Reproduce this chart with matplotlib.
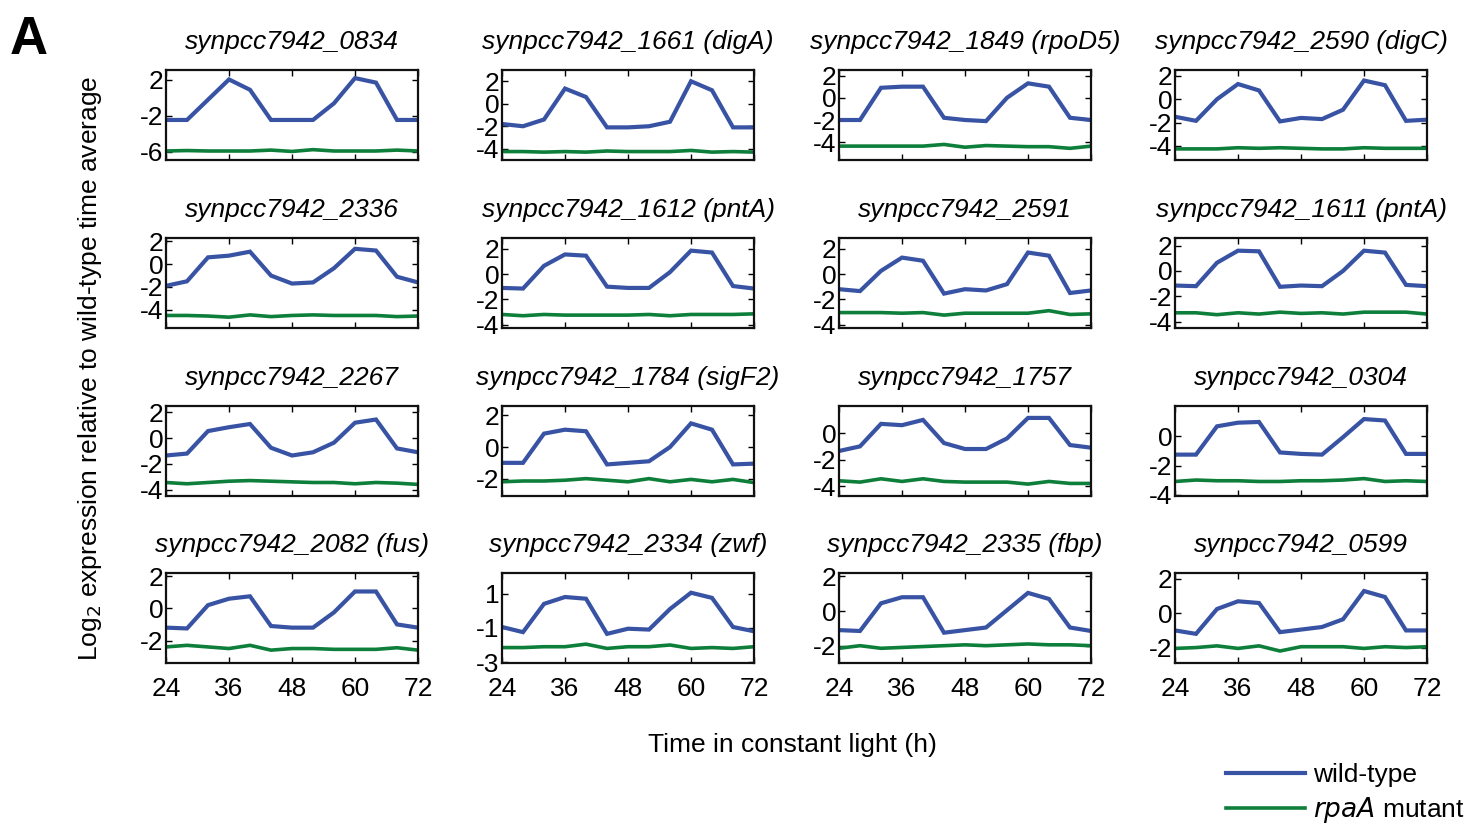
import numpy as np
import matplotlib
matplotlib.use('Agg')
from matplotlib import pyplot as plt

plt.rcParams['font.family'] = ['Liberation Sans', 'DejaVu Sans']
plt.rcParams['axes.unicode_minus'] = False

time_h = [24, 28, 32, 36, 40, 44, 48, 52, 56, 60, 64, 68, 72]

gene_names = ["synpcc7942_0834", "synpcc7942_1661 (digA)", "synpcc7942_1849 (rpoD5)", "synpcc7942_2590 (digC)",
              "synpcc7942_2336", "synpcc7942_1612 (pntA)", "synpcc7942_2591", "synpcc7942_1611 (pntA)",
              "synpcc7942_2267", "synpcc7942_1784 (sigF2)", "synpcc7942_1757", "synpcc7942_0304",
              "synpcc7942_2082 (fus)", "synpcc7942_2334 (zwf)", "synpcc7942_2335 (fbp)", "synpcc7942_0599"]

# wild-type expression, one row per gene
wild_type = [
    [-2.45, -2.45, -0.2, 2.05, 0.9, -2.45, -2.45, -2.45, -0.6, 2.2, 1.7, -2.45, -2.45],
    [-1.8, -2.0, -1.4, 1.35, 0.6, -2.1, -2.1, -2.0, -1.6, 2.0, 1.2, -2.1, -2.1],
    [-2.0, -2.0, 0.9, 1.0, 1.0, -1.8, -2.0, -2.1, 0.0, 1.3, 1.0, -1.8, -2.0],
    [-1.5, -1.85, 0.0, 1.3, 0.75, -1.9, -1.6, -1.7, -0.9, 1.6, 1.2, -1.85, -1.75],
    [-1.9, -1.5, 0.6, 0.75, 1.1, -1.0, -1.7, -1.6, -0.35, 1.35, 1.2, -1.1, -1.6],
    [-1.1, -1.15, 0.65, 1.55, 1.45, -1.0, -1.1, -1.1, 0.15, 1.85, 1.7, -0.95, -1.15],
    [-1.2, -1.35, 0.25, 1.3, 1.05, -1.55, -1.2, -1.3, -0.8, 1.7, 1.45, -1.5, -1.3],
    [-1.15, -1.2, 0.65, 1.6, 1.55, -1.25, -1.15, -1.2, 0.0, 1.6, 1.45, -1.1, -1.2],
    [-1.35, -1.2, 0.55, 0.85, 1.1, -0.75, -1.35, -1.1, -0.35, 1.2, 1.45, -0.8, -1.1],
    [-1.0, -1.0, 0.85, 1.1, 1.0, -1.1, -1.0, -0.9, 0.0, 1.5, 1.1, -1.1, -1.05],
    [-1.35, -1.0, 0.7, 0.6, 1.0, -0.75, -1.2, -1.2, -0.4, 1.15, 1.15, -0.9, -1.1],
    [-1.25, -1.25, 0.7, 0.95, 1.0, -1.1, -1.2, -1.25, -0.05, 1.2, 1.1, -1.2, -1.2],
    [-1.2, -1.25, 0.2, 0.6, 0.75, -1.1, -1.2, -1.2, -0.25, 1.05, 1.05, -1.0, -1.2],
    [-0.95, -1.25, 0.4, 0.8, 0.7, -1.35, -1.05, -1.1, 0.1, 1.05, 0.75, -0.95, -1.2],
    [-1.1, -1.15, 0.45, 0.8, 0.8, -1.25, -1.1, -0.95, 0.05, 1.05, 0.7, -0.95, -1.15],
    [-1.0, -1.2, 0.25, 0.7, 0.6, -1.1, -0.95, -0.8, -0.35, 1.3, 0.95, -1.0, -1.0],
]

# rpaA mutant expression
rpaA_mutant = [
    [-5.9, -5.85, -5.9, -5.9, -5.9, -5.8, -5.95, -5.75, -5.9, -5.9, -5.9, -5.8, -5.9],
    [-4.25, -4.25, -4.3, -4.25, -4.3, -4.2, -4.25, -4.25, -4.25, -4.15, -4.3, -4.25, -4.3],
    [-4.35, -4.35, -4.35, -4.35, -4.35, -4.2, -4.45, -4.3, -4.35, -4.4, -4.4, -4.55, -4.35],
    [-4.25, -4.25, -4.25, -4.15, -4.2, -4.15, -4.2, -4.25, -4.25, -4.15, -4.2, -4.2, -4.2],
    [-4.5, -4.5, -4.55, -4.65, -4.45, -4.6, -4.5, -4.45, -4.5, -4.5, -4.5, -4.6, -4.55],
    [-3.2, -3.3, -3.2, -3.25, -3.25, -3.25, -3.25, -3.2, -3.3, -3.2, -3.2, -3.2, -3.15],
    [-3.05, -3.05, -3.05, -3.1, -3.05, -3.25, -3.1, -3.1, -3.1, -3.1, -2.9, -3.2, -3.15],
    [-3.3, -3.3, -3.45, -3.3, -3.4, -3.25, -3.35, -3.3, -3.4, -3.25, -3.25, -3.25, -3.4],
    [-3.45, -3.55, -3.45, -3.35, -3.3, -3.35, -3.4, -3.45, -3.45, -3.55, -3.45, -3.5, -3.6],
    [-2.2, -2.15, -2.15, -2.1, -2.0, -2.1, -2.2, -2.0, -2.2, -2.05, -2.2, -2.05, -2.25],
    [-3.6, -3.7, -3.45, -3.65, -3.45, -3.65, -3.7, -3.7, -3.7, -3.85, -3.65, -3.8, -3.8],
    [-3.1, -3.0, -3.05, -3.05, -3.1, -3.1, -3.05, -3.05, -3.0, -2.9, -3.1, -3.05, -3.1],
    [-2.4, -2.3, -2.4, -2.5, -2.3, -2.6, -2.5, -2.5, -2.55, -2.55, -2.55, -2.45, -2.6],
    [-2.15, -2.15, -2.1, -2.1, -1.95, -2.2, -2.1, -2.1, -2.0, -2.2, -2.15, -2.2, -2.1],
    [-2.15, -2.0, -2.15, -2.1, -2.05, -2.0, -1.95, -2.0, -1.95, -1.9, -1.95, -1.95, -2.0],
    [-2.05, -2.0, -1.9, -2.05, -1.9, -2.2, -1.95, -1.95, -1.95, -2.05, -1.95, -2.0, -1.95],
]

y_ticks = [[-6, -2, 2], [-4, -2, 0, 2], [-4, -2, 0, 2], [-4, -2, 0, 2],
           [-4, -2, 0, 2], [-4, -2, 0, 2], [-4, -2, 0, 2], [-4, -2, 0, 2],
           [-4, -2, 0, 2], [-2, 0, 2], [-4, -2, 0], [-4, -2, 0],
           [-2, 0, 2], [-3, -1, 1], [-2, 0, 2], [-2, 0, 2]]
y_limits = [(-6.9, 3.1), (-5.0, 3.0), (-5.6, 2.5), (-5.2, 2.5),
            (-5.6, 2.3), (-4.27, 2.85), (-4.27, 2.85), (-4.5, 2.6),
            (-4.5, 2.5), (-3.1, 2.6), (-4.75, 2.05), (-4.1, 2.1),
            (-3.4, 2.2), (-3.05, 2.2), (-3.0, 2.2), (-2.9, 2.35)]
x_ticks = [24, 36, 48, 60, 72]

blue = '#3953a4'
green = '#0e7f3b'
fs = 19

W, H = 1468, 825
fig = plt.figure(figsize=(W / 100, H / 100), dpi=100)

col_left = [166, 502, 839, 1175]
row_top = [70, 238, 406, 573]
ax_w, ax_h = 252, 90

for i in range(16):
    r, c = divmod(i, 4)
    ax = fig.add_axes([col_left[c] / W, 1 - (row_top[r] + ax_h) / H, ax_w / W, ax_h / H])
    l1, = ax.plot(time_h, wild_type[i], color=blue, lw=3.0, solid_joinstyle='miter')
    l2, = ax.plot(time_h, rpaA_mutant[i], color=green, lw=2.6)
    ax.set_xlim(24, 72)
    ax.set_ylim(*y_limits[i])
    ax.set_xticks(x_ticks)
    ax.set_yticks(y_ticks[i])
    ax.tick_params(direction='in', length=4, width=1, top=True, right=True, labelsize=fs)
    ax.tick_params(axis='y', pad=2)
    ax.tick_params(axis='x', pad=10)
    if r < 3:
        ax.set_xticklabels([])
    for s in ax.spines.values():
        s.set_linewidth(1.6)
        s.set_color('#111111')
    ax.set_title(gene_names[i], fontsize=fs, style='italic', pad=15)

fig.text(792 / W, 1 - 745 / H, 'Time in constant light (h)', fontsize=fs,
         ha='center', va='center')
fig.text(90 / W, 1 - 368 / H, 'Log$_2$ expression relative to wild-type time average',
         fontsize=fs, rotation=90, ha='center', va='center')
fig.text(10 / W, 1 - 40 / H, 'A', fontsize=38, fontweight='bold', ha='left', va='center')

fig.legend([l1, l2], ['wild-type', '$\\it{rpaA}$ mutant'], loc='lower right',
           bbox_to_anchor=(1478 / W, -13 / H), frameon=False, fontsize=fs,
           handlelength=3.0, handletextpad=0.3, labelspacing=0.3, borderaxespad=0.1)

plt.savefig('out.png', dpi=100)
